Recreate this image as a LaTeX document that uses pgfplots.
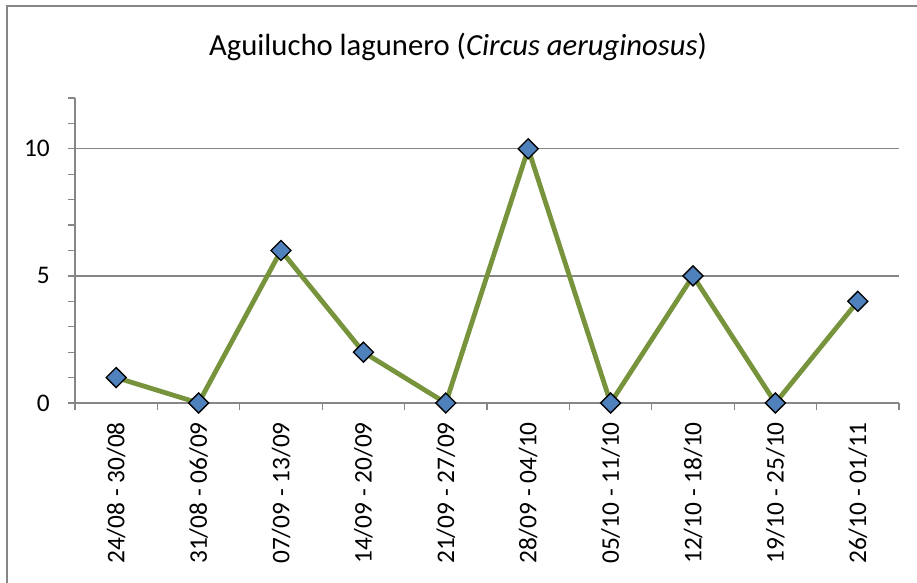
\documentclass[border=0pt]{standalone}
\usepackage{pgfplots}
\pgfplotsset{compat=1.18}
\usepackage{fontspec}
\setmainfont{Carlito}
\definecolor{linegreen}{HTML}{77933C}
\definecolor{markblue}{HTML}{4F81BD}
\definecolor{axgray}{HTML}{868686}
\newcommand{\tickfont}{\fontsize{19}{22}\selectfont}
\begin{document}
\begin{tikzpicture}[x=0.75pt,y=0.75pt]
\useasboundingbox (0,0) rectangle (917,582);
\begin{scope}
\clip (0,0) rectangle (917,582);
\draw[axgray, line width=1.1pt] (7,-20) rectangle (940,576);
\end{scope}
\node[anchor=base, inner sep=0pt, font=\fontsize{23}{27}\selectfont] at (458,526) {Aguilucho lagunero (\textit{Circus aeruginosus})};
\begin{axis}[
  at={(56.25pt,134.25pt)}, anchor=south west,
  width=618pt, height=228.75pt, scale only axis,
  xmin=-0.5, xmax=9.5, ymin=0, ymax=12,
  axis x line*=bottom, axis y line*=left,
  axis line style={axgray, line width=1pt},
  xtick={0,...,9},
  xticklabels={{\tickfont 24/08 - 30/08},{\tickfont 31/08 - 06/09},{\tickfont 07/09 - 13/09},{\tickfont 14/09 - 20/09},{\tickfont 21/09 - 27/09},{\tickfont 28/09 - 04/10},{\tickfont 05/10 - 11/10},{\tickfont 12/10 - 18/10},{\tickfont 19/10 - 25/10},{\tickfont 26/10 - 01/11}},
  minor xtick={-0.5,0.5,...,9.5},
  ytick={0,5,10},
  yticklabels={{\tickfont 0},{\tickfont 5},{\tickfont 10}},
  minor ytick={0,...,12},
  tick align=outside,
  major tick length=5.25pt, minor tick length=5.25pt,
  major x tick style={draw=none},
  tick style={axgray, line width=1pt},
  ymajorgrids, major grid style={axgray, line width=1pt},
  /pgf/number format/assume math mode=true,
  xticklabel style={rotate=90, anchor=east, inner sep=0pt, xshift=-9pt},
  yticklabel style={anchor=east, inner sep=0pt, xshift=-13.5pt},
  clip=false,
]
\addplot[linegreen, line width=3.6pt, mark=square*, mark size=5.3pt,
  mark options={rotate=45, fill=markblue, draw=black, line width=1pt}]
  coordinates {(0,1) (1,0) (2,6) (3,2) (4,0) (5,10) (6,0) (7,5) (8,0) (9,4)};
\end{axis}
\end{tikzpicture}
\end{document}
